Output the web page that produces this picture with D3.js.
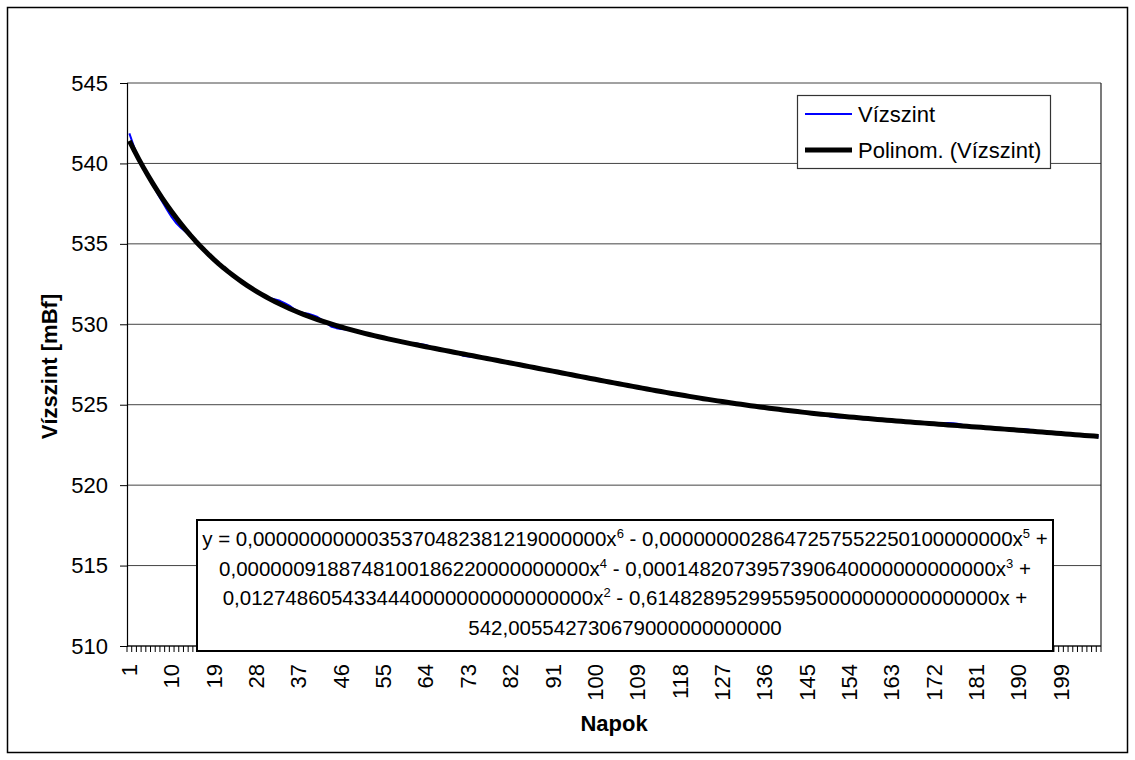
<!DOCTYPE html>
<html>
<head>
<meta charset="utf-8">
<script src="https://cdn.jsdelivr.net/npm/d3@7"></script>
<style>
  body { margin: 0; background: #fff; }
  svg { display: block; }
  text { font-family: "Liberation Sans", Arial, sans-serif; fill: #000; }
</style>
</head>
<body>
<svg id="chart" width="1135" height="760"></svg>
<script>
// Daily water level readings [mBf]
const waterLevel = [
  541.87, 541.02, 540.33, 539.74, 539.20, 538.68, 538.12, 537.62, 537.12, 536.66,
  536.28, 535.98, 535.74, 535.48, 535.22, 534.90, 534.58, 534.29, 534.01, 533.75,
  533.52, 533.28, 533.05, 532.84, 532.62, 532.42, 532.24, 532.06, 531.88, 531.72,
  531.62, 531.55, 531.46, 531.32, 531.16, 530.94, 530.79, 530.70, 530.66, 530.56,
  530.45, 530.26, 530.05, 529.84, 529.76, 529.70, 529.68, 529.64, 529.58, 529.51,
  529.45, 529.37, 529.29, 529.22, 529.16, 529.10, 529.03, 528.96, 528.90, 528.84,
  528.79, 528.80, 528.76, 528.71, 528.60, 528.50, 528.44, 528.38, 528.32, 528.26,
  528.16, 528.04, 527.99, 527.97, 527.95, 527.92, 527.87, 527.82, 527.76, 527.70,
  527.65, 527.59, 527.54, 527.48, 527.42, 527.37, 527.31, 527.26, 527.20, 527.14,
  527.09, 527.03, 526.97, 526.92, 526.86, 526.80, 526.75, 526.69, 526.64, 526.58,
  526.52, 526.47, 526.41, 526.36, 526.30, 526.25, 526.19, 526.14, 526.08, 526.03,
  525.98, 525.93, 525.88, 525.83, 525.78, 525.72, 525.67, 525.62, 525.57, 525.52,
  525.47, 525.43, 525.38, 525.34, 525.29, 525.25, 525.20, 525.16, 525.11, 525.06,
  525.03, 524.99, 524.95, 524.91, 524.87, 524.83, 524.79, 524.75, 524.72, 524.68,
  524.64, 524.61, 524.58, 524.55, 524.52, 524.48, 524.45, 524.42, 524.36, 524.26,
  524.22, 524.20, 524.22, 524.23, 524.20, 524.13, 524.10, 524.10, 524.09, 524.07,
  524.00, 523.98, 523.98, 523.99, 523.97, 523.94, 523.90, 523.86, 523.86, 523.85,
  523.84, 523.84, 523.84, 523.85, 523.86, 523.85, 523.82, 523.76, 523.68, 523.64,
  523.61, 523.59, 523.57, 523.55, 523.53, 523.50, 523.48, 523.46, 523.44, 523.47,
  523.48, 523.46, 523.40, 523.33, 523.30, 523.28, 523.25, 523.23, 523.21, 523.18,
  523.16, 523.14, 523.11, 523.09, 523.06, 523.04, 523.02
];

// Day numbers (categories) 1..N
const days = waterLevel.map((_, i) => i + 1);

// 6th order polynomial trend, coefficients for x^0 .. x^6
const trendCoefficients = [
  542.005542730679,
  -0.614828952995595,
  0.0127486054334444,
  -0.000148207395739064,
  0.000000918874810018622,
  -0.0000000028647257552250,
  0.0000000000035370482381219
];

const yTicks = [510, 515, 520, 525, 530, 535, 540, 545];
const xTickLabels = [1, 10, 19, 28, 37, 46, 55, 64, 73, 82, 91, 100, 109, 118, 127,
                     136, 145, 154, 163, 172, 181, 190, 199];

const seriesName = "Vízszint";
const trendName = "Polinom. (Vízszint)";
const xTitle = "Napok";
const yTitle = "Vízszint [mBf]";

// Trend equation text, split into lines; {s: ...} marks a superscript
const equationLines = [
  [{t: "y = 0,0000000000035370482381219000000x"}, {s: "6"}, {t: " - 0,0000000028647257552250100000000x"}, {s: "5"}, {t: " +"}],
  [{t: "0,0000009188748100186220000000000x"}, {s: "4"}, {t: " - 0,0001482073957390640000000000000x"}, {s: "3"}, {t: " +"}],
  [{t: "0,0127486054334440000000000000000x"}, {s: "2"}, {t: " - 0,6148289529955950000000000000000x +"}],
  [{t: "542,005542730679000000000000"}]
];

const svg = d3.select("#chart");
const plot = {left: 127, top: 83, right: 1101, bottom: 646};

// outer chart frame
svg.append("rect")
  .attr("x", 7.5).attr("y", 7.5)
  .attr("width", 1120).attr("height", 745)
  .attr("fill", "#fff").attr("stroke", "#000").attr("stroke-width", 1.5);

const x = d3.scaleBand().domain(days).range([plot.left, plot.right]).padding(0);
const cx = d => x(d) + x.bandwidth() / 2;
const y = d3.scaleLinear().domain([510, 545]).range([plot.bottom, plot.top]);

// horizontal gridlines
svg.append("g").selectAll("line")
  .data(yTicks)
  .join("line")
  .attr("x1", plot.left).attr("x2", plot.right)
  .attr("y1", d => y(d)).attr("y2", d => y(d))
  .attr("stroke", "#444").attr("stroke-width", 1);

// right edge of plot area
svg.append("line")
  .attr("x1", plot.right).attr("x2", plot.right)
  .attr("y1", plot.top).attr("y2", plot.bottom)
  .attr("stroke", "#222").attr("stroke-width", 1.2);

// y axis
const yAxis = svg.append("g")
  .attr("transform", `translate(${plot.left},0)`)
  .call(d3.axisLeft(y).tickValues(yTicks).tickSize(7).tickPadding(12).tickFormat(d3.format("d")));
yAxis.select(".domain").attr("stroke", "#000").attr("stroke-width", 1.2);
yAxis.selectAll(".tick line").attr("stroke", "#000");
yAxis.selectAll(".tick text")
  .attr("font-size", 22)
  .attr("font-family", '"Liberation Sans", Arial, sans-serif');

// x axis: small tick at every category boundary
const xAxisG = svg.append("g");
xAxisG.append("line")
  .attr("x1", plot.left).attr("x2", plot.right)
  .attr("y1", plot.bottom).attr("y2", plot.bottom)
  .attr("stroke", "#000").attr("stroke-width", 1.2);
xAxisG.selectAll("line.minor")
  .data(days.concat([days.length + 1]))
  .join("line")
  .attr("class", "minor")
  .attr("x1", d => d <= days.length ? x(d) : plot.right)
  .attr("x2", d => d <= days.length ? x(d) : plot.right)
  .attr("y1", plot.bottom).attr("y2", plot.bottom + 6)
  .attr("stroke", "#000").attr("stroke-width", 1);

// x tick labels, rotated
const xLabels = svg.append("g")
  .attr("transform", `translate(0,${plot.bottom})`)
  .call(d3.axisBottom(x).tickValues(xTickLabels).tickSize(0).tickPadding(0));
xLabels.select(".domain").remove();
xLabels.selectAll(".tick text")
  .attr("font-size", 22)
  .attr("font-family", '"Liberation Sans", Arial, sans-serif')
  .attr("transform", "rotate(-90)")
  .attr("text-anchor", "end")
  .attr("x", -18)
  .attr("y", 0)
  .attr("dy", "0.35em");

// series and trend lines
const line = d3.line().x(d => cx(d[0])).y(d => y(d[1]));
svg.append("path")
  .datum(days.map((d, i) => [d, waterLevel[i]]))
  .attr("d", line)
  .attr("fill", "none").attr("stroke", "#0000FF").attr("stroke-width", 2)
  .attr("stroke-linejoin", "round");

const poly = d => trendCoefficients.reduce((acc, c, k) => acc + c * Math.pow(d, k), 0);
svg.append("path")
  .datum(days.map(d => [d, poly(d)]))
  .attr("d", line)
  .attr("fill", "none").attr("stroke", "#000").attr("stroke-width", 5)
  .attr("stroke-linejoin", "round");

// legend
const lg = svg.append("g");
lg.append("rect")
  .attr("x", 797.5).attr("y", 95.5).attr("width", 253).attr("height", 73)
  .attr("fill", "#fff").attr("stroke", "#333").attr("stroke-width", 1.2);
const legendItems = [
  {name: seriesName, color: "#0000FF", width: 2, y: 114},
  {name: trendName, color: "#000", width: 5, y: 150}
];
legendItems.forEach(it => {
  lg.append("line")
    .attr("x1", 805).attr("x2", 852).attr("y1", it.y).attr("y2", it.y)
    .attr("stroke", it.color).attr("stroke-width", it.width);
  lg.append("text")
    .attr("x", 858).attr("y", it.y).attr("dy", "0.35em")
    .attr("font-size", 22).text(it.name);
});

// trend equation box
const eq = svg.append("g");
const box = {x: 197, y: 520, w: 856, h: 131};
eq.append("rect")
  .attr("x", box.x).attr("y", box.y).attr("width", box.w).attr("height", box.h)
  .attr("fill", "#fff").attr("stroke", "#000").attr("stroke-width", 2);
const eqBaselines = [546, 575.5, 605, 634.5];
equationLines.forEach((parts, i) => {
  const t = eq.append("text")
    .attr("x", box.x + box.w / 2).attr("y", eqBaselines[i])
    .attr("text-anchor", "middle").attr("font-size", 20.5);
  let raised = false;
  parts.forEach(p => {
    if (p.s !== undefined) {
      t.append("tspan").attr("dy", -8).attr("font-size", 13).text(p.s);
      raised = true;
    } else {
      t.append("tspan").attr("dy", raised ? 8 : 0).text(p.t);
      raised = false;
    }
  });
});

// axis titles
svg.append("text")
  .attr("x", (plot.left + plot.right) / 2).attr("y", 731)
  .attr("text-anchor", "middle").attr("font-size", 22).attr("font-weight", "bold")
  .text(xTitle);
svg.append("text")
  .attr("transform", `translate(57,${(plot.top + plot.bottom) / 2 + 2}) rotate(-90)`)
  .attr("text-anchor", "middle").attr("font-size", 22).attr("font-weight", "bold")
  .text(yTitle);
</script>
</body>
</html>
